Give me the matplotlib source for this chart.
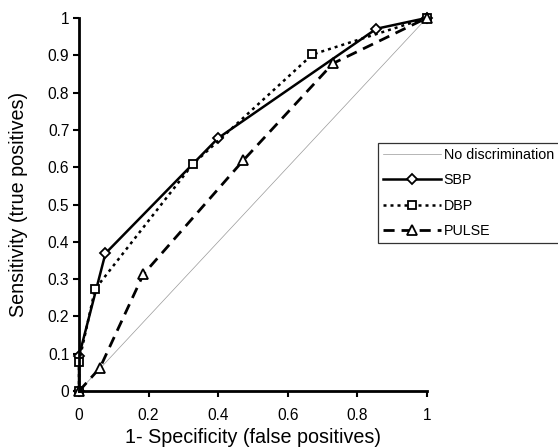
import matplotlib
matplotlib.use('Agg')
import matplotlib.pyplot as plt

plt.rcParams['font.family'] = ['Liberation Sans', 'DejaVu Sans']

# ROC data
diag_x = [0, 1]
diag_y = [0, 1]

sbp_x = [0, 0, 0.076, 0.40, 0.855, 1]
sbp_y = [0, 0.094, 0.369, 0.678, 0.971, 1]

dbp_x = [0, 0, 0.046, 0.327, 0.671, 1]
dbp_y = [0, 0.078, 0.273, 0.608, 0.902, 1]

pulse_x = [0, 0.06, 0.185, 0.472, 0.73, 1]
pulse_y = [0, 0.062, 0.313, 0.618, 0.878, 1]

ticks_x = [0, 0.2, 0.4, 0.6, 0.8, 1]
ticks_y = [0, 0.1, 0.2, 0.3, 0.4, 0.5, 0.6, 0.7, 0.8, 0.9, 1]

fig = plt.figure(figsize=(5.58, 4.48), dpi=100)
ax = fig.add_axes([0.1416, 0.127, 0.6234, 0.833])

ax.plot(diag_x, diag_y, color='#999999', lw=0.5, label='No discrimination')
ax.plot(sbp_x, sbp_y, color='black', lw=1.8, ls='-', marker='D', ms=5,
        mfc='white', mec='black', mew=1.3, label='SBP')
ax.plot(dbp_x, dbp_y, color='black', lw=1.8, ls=(0, (1.2, 1.6)), marker='s', ms=6,
        mfc='white', mec='black', mew=1.3, label='DBP')
ax.plot(pulse_x, pulse_y, color='black', lw=2.0, ls=(0, (4, 2.5)), marker='^', ms=7,
        mfc='white', mec='black', mew=1.3, label='PULSE')

ax.set_xlim(0, 1)
ax.set_ylim(0, 1)
ax.set_xticks(ticks_x)
ax.set_xticklabels(['0', '0.2', '0.4', '0.6', '0.8', '1'])
ax.set_yticks(ticks_y)
ax.set_yticklabels(['0', '0.1', '0.2', '0.3', '0.4', '0.5', '0.6', '0.7', '0.8', '0.9', '1'])
ax.tick_params(direction='out', length=4, width=1.5, labelsize=11.2)
ax.tick_params(axis='x', pad=8)
ax.tick_params(axis='y', pad=3)

for side in ['top', 'right']:
    ax.spines[side].set_visible(False)
for side in ['left', 'bottom']:
    ax.spines[side].set_linewidth(2)

ax.set_xlabel('1- Specificity (false positives)', fontsize=14.2, labelpad=4)
ax.set_ylabel('Sensitivity (true positives)', fontsize=14.2, labelpad=14)

for ln in ax.lines:
    ln.set_clip_on(False)

leg = fig.legend(loc='upper left', bbox_to_anchor=(0.677, 0.451, 0.36, 0.23),
                 mode='expand', fontsize=10.3, frameon=True, fancybox=False,
                 handlelength=4.1, handletextpad=0.15, borderaxespad=0,
                 labelspacing=0.8, borderpad=0.35)
leg.get_frame().set_edgecolor('black')
leg.get_frame().set_linewidth(0.9)

plt.savefig('out.png', dpi=100)
